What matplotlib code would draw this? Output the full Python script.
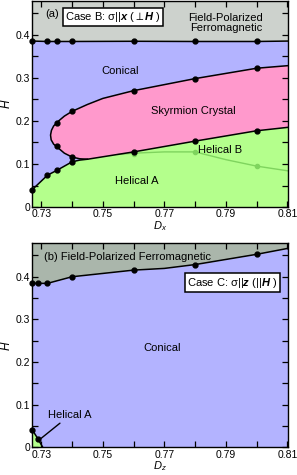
import matplotlib
matplotlib.use("Agg")
import matplotlib.pyplot as plt
from matplotlib.ticker import FixedLocator, FuncFormatter

plt.rcParams['font.family'] = ['Liberation Sans', 'DejaVu Sans']
plt.rcParams['font.size'] = 7
plt.rcParams['mathtext.fontset'] = 'custom'
plt.rcParams['mathtext.rm'] = 'Liberation Sans'
plt.rcParams['mathtext.it'] = 'Liberation Sans:italic'
plt.rcParams['mathtext.bf'] = 'Liberation Sans:bold:italic'

# ---------------------------------------------------------
# data
# ---------------------------------------------------------
XMIN, XMAX = 0.727, 0.8102
YMIN, YMAX = 0.0, 0.478

x_major = [0.73, 0.75, 0.77, 0.79, 0.81]
x_minor = [0.74, 0.76, 0.78, 0.80]
y_major = [0.0, 0.1, 0.2, 0.3, 0.4]
y_minor = [0.05, 0.15, 0.25, 0.35, 0.45]

# panel (a): Case B
fpa_x = [0.727, 0.732, 0.735, 0.740, 0.760, 0.780, 0.800, 0.8102]
fpa_h = [0.385, 0.384, 0.384, 0.384, 0.3845, 0.384, 0.384, 0.385]
fpa_dots = 7

# Skyrmion crystal outline (upper branch -> nose -> lower branch)
skx_x = [0.8102, 0.800, 0.780, 0.760, 0.750, 0.745, 0.740, 0.7375, 0.7355,
         0.734, 0.7333, 0.733, 0.7332, 0.734, 0.7355, 0.7375, 0.740, 0.7425,
         0.745, 0.760, 0.780, 0.800, 0.8102]
skx_h = [0.328, 0.322, 0.298, 0.270, 0.252, 0.238, 0.222, 0.211, 0.199,
         0.188, 0.178, 0.167, 0.156, 0.146, 0.137, 0.125, 0.116, 0.112,
         0.111, 0.128, 0.153, 0.177, 0.185]
skx_dot_x = [0.800, 0.780, 0.760, 0.740, 0.735, 0.735, 0.740, 0.760, 0.780, 0.800]
skx_dot_h = [0.322, 0.298, 0.270, 0.222, 0.196, 0.141, 0.116, 0.128, 0.153, 0.177]
SKX_LOWER = 18  # index where the lower branch starts

# helical A / conical boundary
hela_x = [0.727, 0.732, 0.735, 0.740, 0.7425, 0.745]
hela_h = [0.040, 0.074, 0.085, 0.105, 0.109, 0.111]
hela_dots = 4

# helical A / helical B boundary (light green)
helb_x = [0.755, 0.760, 0.770, 0.780, 0.790, 0.800, 0.8102]
helb_h = [0.122, 0.125, 0.128, 0.128, 0.110, 0.095, 0.084]
helb_dot_x = [0.760, 0.780, 0.800]
helb_dot_h = [0.124, 0.128, 0.095]

# panel (b): Case C
fpb_x = [0.727, 0.729, 0.732, 0.740, 0.760, 0.770, 0.780, 0.800, 0.8102]
fpb_h = [0.384, 0.384, 0.384, 0.3995, 0.415, 0.419, 0.428, 0.452, 0.466]
fpb_dot_x = [0.727, 0.729, 0.732, 0.740, 0.760, 0.780, 0.800]
fpb_dot_h = [0.384, 0.384, 0.384, 0.3995, 0.415, 0.428, 0.452]

hel_small_x = [0.727, 0.727, 0.729, 0.7305]
hel_small_h = [0.0, 0.042, 0.019, 0.0]
hel_small_dot_x = [0.727, 0.729]
hel_small_dot_h = [0.042, 0.019]

# colours
C_FP_A = '#cdd2cd'
C_FP_B = '#aab6ab'
C_CON = '#b3b3ff'
C_SKX = '#ff99cc'
C_HEL = '#b4ff8c'
C_HELB_LINE = '#7fd45e'

LW = 1.1
MS = 3.5
FS = 8


def style_axes(ax, xlab):
    ax.set_xlim(XMIN, XMAX)
    ax.set_ylim(YMIN, YMAX)
    ax.xaxis.set_major_locator(FixedLocator(x_major))
    ax.xaxis.set_minor_locator(FixedLocator(x_minor))
    ax.yaxis.set_major_locator(FixedLocator(y_major))
    ax.yaxis.set_minor_locator(FixedLocator(y_minor))
    ax.xaxis.set_major_formatter(FuncFormatter(lambda v, p: f"{v:.2f}"))
    ax.yaxis.set_major_formatter(
        FuncFormatter(lambda v, p: "0" if abs(v) < 1e-9 else f"{v:.1f}"))
    ax.tick_params(which='both', direction='in', top=True, right=True,
                   length=4, width=0.9, pad=1.5, labelsize=7.5)
    ax.set_xlabel(xlab, fontsize=8, labelpad=0)
    ax.set_ylabel(r"$H$", fontsize=8.5, labelpad=2)
    for sp in ax.spines.values():
        sp.set_linewidth(1.0)


fig = plt.figure(figsize=(2.97, 4.75), dpi=100)
ax1 = fig.add_axes([0.108, 0.564, 0.862, 0.434])
ax2 = fig.add_axes([0.108, 0.058, 0.862, 0.430])

# =========================================================
# panel (a)
# =========================================================
ax1.fill_between(fpa_x, fpa_h, YMAX, color=C_FP_A, lw=0)
ax1.fill_between(fpa_x, 0, fpa_h, color=C_CON, lw=0)
green_x = [XMIN] + hela_x + skx_x[SKX_LOWER:] + [XMAX]
green_h = [0.0] + hela_h + skx_h[SKX_LOWER:] + [0.0]
ax1.fill(green_x, green_h, color=C_HEL, lw=0)
ax1.fill(skx_x, skx_h, color=C_SKX, lw=0)

ax1.plot(helb_x, helb_h, color=C_HELB_LINE, lw=1.0)
ax1.plot(helb_dot_x, helb_dot_h, 'o', color=C_HELB_LINE, ms=3)

ax1.plot(fpa_x, fpa_h, color='black', lw=LW, clip_on=False)
ax1.plot(fpa_x[:fpa_dots], fpa_h[:fpa_dots], 'o', color='black', ms=MS, clip_on=False)
ax1.plot(skx_x, skx_h, color='black', lw=LW)
ax1.plot(skx_dot_x, skx_dot_h, 'o', color='black', ms=MS)
ax1.plot(hela_x, hela_h, color='black', lw=LW)
ax1.plot(hela_x[:hela_dots], hela_h[:hela_dots], 'o', color='black', ms=MS, clip_on=False)

ax1.text(0.7313, 0.448, "(a)", fontsize=FS, va='center', ha='left')
ax1.text(0.7377, 0.441, r"Case B: σ||$\mathbf{x}$ ($\perp$$\mathbf{H}$ )",
         fontsize=FS, va='center', ha='left',
         bbox=dict(boxstyle='square,pad=0.2', fc='white', ec='black', lw=1.1))
ax1.text(0.790, 0.428, "Field-Polarized\nFerromagnetic", fontsize=FS,
         ha='center', va='center', linespacing=1.0)
ax1.text(0.7557, 0.316, "Conical", fontsize=FS, ha='center', va='center')
ax1.text(0.7793, 0.222, "Skyrmion Crystal", fontsize=FS, ha='center', va='center')
ax1.text(0.7882, 0.132, "Helical B", fontsize=FS, ha='center', va='center')
ax1.text(0.7611, 0.060, "Helical A", fontsize=FS, ha='center', va='center')
style_axes(ax1, r"$D_x$")

# =========================================================
# panel (b)
# =========================================================
ax2.fill_between(fpb_x, fpb_h, YMAX, color=C_FP_B, lw=0)
ax2.fill_between(fpb_x, 0, fpb_h, color=C_CON, lw=0)
ax2.fill(hel_small_x, hel_small_h, color=C_HEL, lw=0)
ax2.plot(hel_small_x[1:], hel_small_h[1:], color='black', lw=LW)
ax2.plot(hel_small_dot_x, hel_small_dot_h, 'o', color='black', ms=MS, clip_on=False)

ax2.plot(fpb_x, fpb_h, color='black', lw=LW, clip_on=False)
ax2.plot(fpb_dot_x, fpb_dot_h, 'o', color='black', ms=MS, clip_on=False)

ax2.text(0.7309, 0.4457, "(b) Field-Polarized Ferromagnetic", fontsize=FS,
         ha='left', va='center')
ax2.text(0.7921, 0.385, r"Case C: σ||$\mathbf{z}$ (||$\mathbf{H}$ )",
         fontsize=FS, ha='center', va='center',
         bbox=dict(boxstyle='square,pad=0.22', fc='white', ec='black', lw=1.1))
ax2.text(0.7692, 0.232, "Conical", fontsize=FS, ha='center', va='center')
ax2.annotate("Helical A", xy=(0.7292, 0.017), xytext=(0.7393, 0.075),
             fontsize=FS, ha='center', va='center',
             arrowprops=dict(arrowstyle='-', color='black', lw=1.0,
                             shrinkA=0, shrinkB=0, relpos=(0.35, 0.0)))
style_axes(ax2, r"$D_z$")

fig.savefig("out.png", dpi=100)
plt.close(fig)
